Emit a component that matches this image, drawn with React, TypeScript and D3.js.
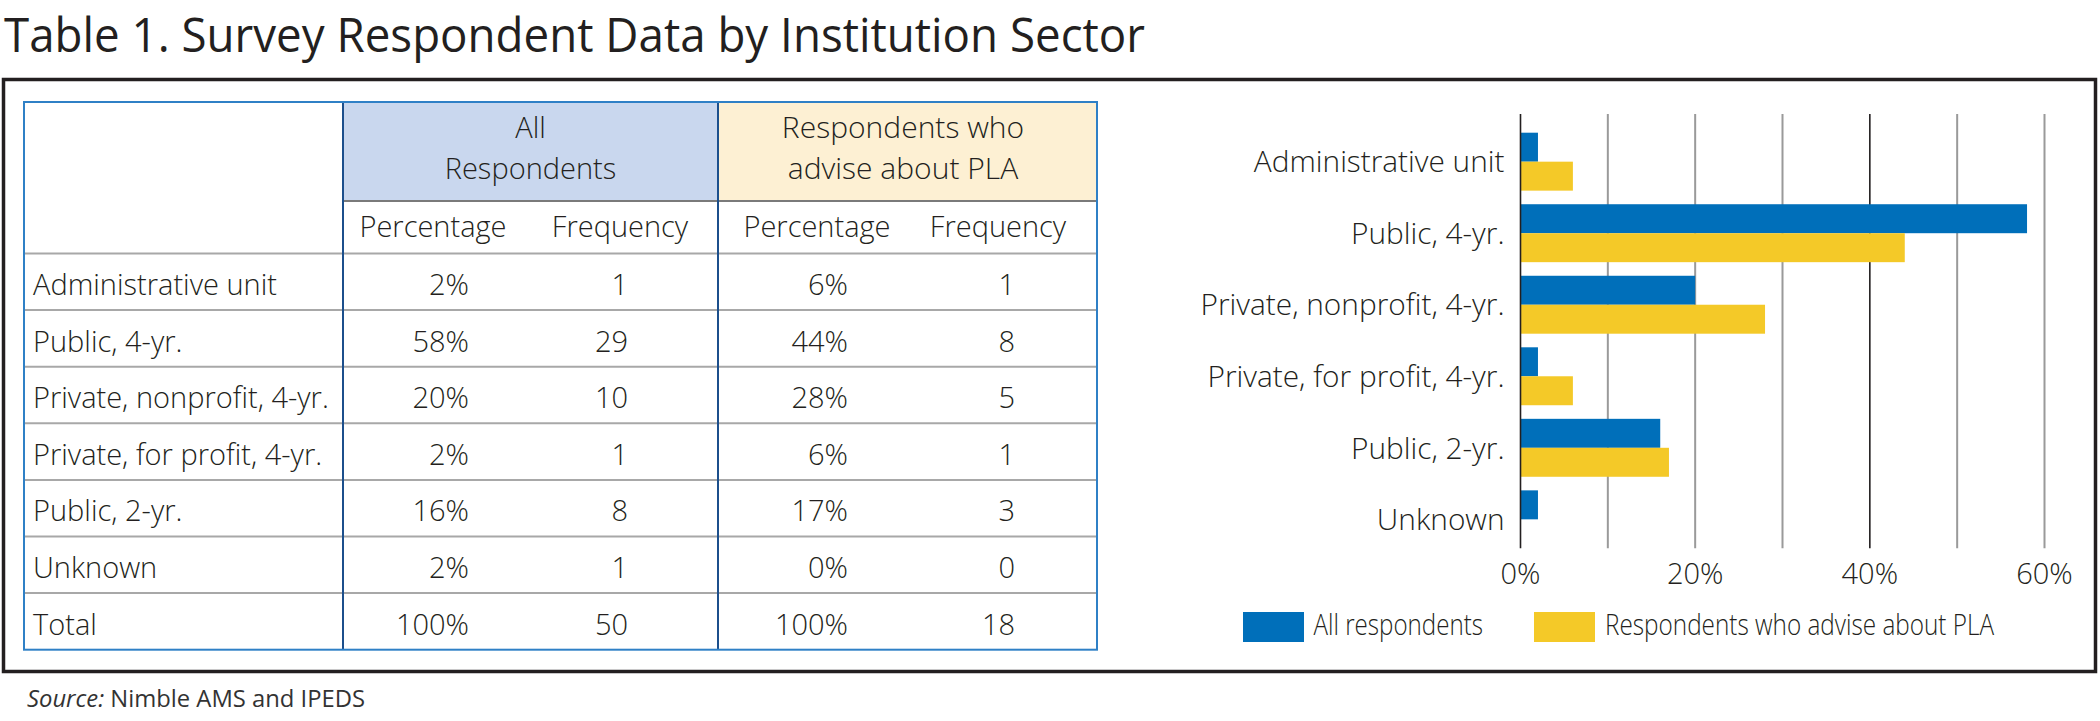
import React from "react";
import * as d3 from "d3";

// ---------- data ----------
const categories = [
  "Administrative unit",
  "Public, 4-yr.",
  "Private, nonprofit, 4-yr.",
  "Private, for profit, 4-yr.",
  "Public, 2-yr.",
  "Unknown",
];
const allPct = [2, 58, 20, 2, 16, 2];
const allFreq = [1, 29, 10, 1, 8, 1];
const plaPct = [6, 44, 28, 6, 17, 0];
const plaFreq = [1, 8, 5, 1, 3, 0];
const totalLabel = "Total";
const totals = { allPct: 100, allFreq: 50, plaPct: 100, plaFreq: 18 };
const seriesNames = ["All respondents", "Respondents who advise about PLA"];
const xTicks = [0, 20, 40, 60];
const gridValues = [10, 20, 30, 40, 50, 60];

const FONT = "'Open Sans', 'Noto Sans', sans-serif";
const TEXT = "#231f20";
const BLUE = "#006fba";
const YELLOW = "#f4c928";

export default function App() {
  // table geometry
  const tL = 24, tR = 1097, tT = 102;
  const c1 = 343, c2 = 718;
  const h1B = 201, h2B = 253.5;
  const rowH = 56.6;
  const nRows = categories.length + 1;
  const tB = h2B + rowH * nRows;

  const rows = categories.map((c, i) => ({
    label: c,
    v: [`${allPct[i]}%`, `${allFreq[i]}`, `${plaPct[i]}%`, `${plaFreq[i]}`],
  }));
  rows.push({
    label: totalLabel,
    v: [`${totals.allPct}%`, `${totals.allFreq}`, `${totals.plaPct}%`, `${totals.plaFreq}`],
  });
  const valueRight = [469, 628, 848, 1015];

  // chart scales
  const x = d3.scaleLinear().domain([0, 60]).range([1520.5, 2044.5]);
  const y = d3.scaleBand<string>().domain(categories).range([132.7, 548.3]).paddingInner(0.19).paddingOuter(0);
  const sub = d3.scaleBand<number>().domain([0, 1]).range([0, y.bandwidth()]);
  const gridTop = 114, gridBot = 548.3;

  const fs = 29;

  return (
    <svg
      width={2100}
      height={721}
      style={{ position: "absolute", left: 0, top: 0, display: "block", background: "#fff" }}
      fontFamily={FONT}
    >
      <rect x={0} y={0} width={2100} height={721} fill="#fff" />
      {/* title */}
      <text x={4} y={51.5} fontSize={47} fill={TEXT} fontWeight={400} textLength={1141} lengthAdjust="spacingAndGlyphs">
        Table 1. Survey Respondent Data by Institution Sector
      </text>
      {/* outer frame */}
      <rect x={3.5} y={79.5} width={2092} height={592} fill="none" stroke={TEXT} strokeWidth={3.5} />

      {/* ---- table ---- */}
      <rect x={c1} y={tT} width={c2 - c1} height={h1B - tT} fill="#c9d7ee" />
      <rect x={c2} y={tT} width={tR - c2} height={h1B - tT} fill="#fdf0d3" />
      {/* horizontal lines */}
      <line x1={c1} x2={tR} y1={h1B} y2={h1B} stroke="#7a7a7a" strokeWidth={2} />
      {d3.range(nRows).map((i) => (
        <line key={i} x1={tL} x2={tR} y1={h2B + rowH * i} y2={h2B + rowH * i} stroke="#a8a8a8" strokeWidth={2} />
      ))}
      {/* dividers */}
      <line x1={c1} x2={c1} y1={tT} y2={tB} stroke="#1c4f8c" strokeWidth={2} />
      <line x1={c2} x2={c2} y1={tT} y2={tB} stroke="#1c4f8c" strokeWidth={2} />
      <rect x={tL} y={tT} width={tR - tL} height={tB - tT} fill="none" stroke="#2f80c6" strokeWidth={2} />

      {/* header texts */}
      <g fontSize={fs} fill={TEXT} fontWeight={300} textAnchor="middle">
        <text x={(c1 + c2) / 2} y={138}>All</text>
        <text x={(c1 + c2) / 2} y={179}>Respondents</text>
        <text x={903} y={138} fontSize={30}>Respondents who</text>
        <text x={903} y={179} fontSize={30}>advise about PLA</text>
        <text x={433} y={236.5}>Percentage</text>
        <text x={620} y={236.5}>Frequency</text>
        <text x={817} y={236.5}>Percentage</text>
        <text x={998} y={236.5}>Frequency</text>
      </g>
      {/* body */}
      <g fontSize={fs} fill={TEXT} fontWeight={300}>
        {rows.map((r, i) => {
          const by = h2B + rowH * i + 41.5;
          return (
            <g key={r.label}>
              <text x={33} y={by}>{r.label}</text>
              {r.v.map((v, j) => (
                <text key={j} x={valueRight[j]} y={by} textAnchor="end">{v}</text>
              ))}
            </g>
          );
        })}
      </g>

      {/* ---- chart ---- */}
      {gridValues.map((g) => (
        <line
          key={g}
          x1={x(g)}
          x2={x(g)}
          y1={gridTop}
          y2={gridBot}
          stroke={g === 40 ? "#231f20" : "#9a9a9a"}
          strokeWidth={g === 40 ? 1.6 : 2}
        />
      ))}
      {categories.map((c, i) => (
        <g key={c}>
          <rect x={x(0)} y={(y(c) as number) + (sub(0) as number)} width={x(allPct[i]) - x(0)} height={sub.bandwidth()} fill={BLUE} />
          <rect x={x(0)} y={(y(c) as number) + (sub(1) as number)} width={x(plaPct[i]) - x(0)} height={sub.bandwidth()} fill={YELLOW} />
        </g>
      ))}
      <line x1={x(0)} x2={x(0)} y1={gridTop} y2={gridBot} stroke="#231f20" strokeWidth={1.6} />
      <g fontSize={29.8} fill={TEXT} fontWeight={300} textAnchor="end">
        {categories.map((c) => (
          <text key={c} x={1504.5} y={(y(c) as number) + y.bandwidth() / 2} dy="0.36em">{c}</text>
        ))}
      </g>
      <g fontSize={fs} fill={TEXT} fontWeight={300} textAnchor="middle">
        {xTicks.map((t) => (
          <text key={t} x={x(t)} y={584}>{`${t}%`}</text>
        ))}
      </g>
      {/* legend */}
      <g fontSize={fs} fill={TEXT} fontWeight={300}>
        <rect x={1243} y={612} width={61} height={30} fill={BLUE} />
        <text x={1313.5} y={635} textLength={169.5} lengthAdjust="spacingAndGlyphs">{seriesNames[0]}</text>
        <rect x={1534} y={612} width={61} height={30} fill={YELLOW} />
        <text x={1605} y={635} textLength={389} lengthAdjust="spacingAndGlyphs">{seriesNames[1]}</text>
      </g>

      {/* source */}
      <text x={27} y={706.5} fontSize={23.8} fill="#333" fontWeight={400}>
        <tspan fontStyle="italic">Source:</tspan> Nimble AMS and IPEDS
      </text>
    </svg>
  );
}
